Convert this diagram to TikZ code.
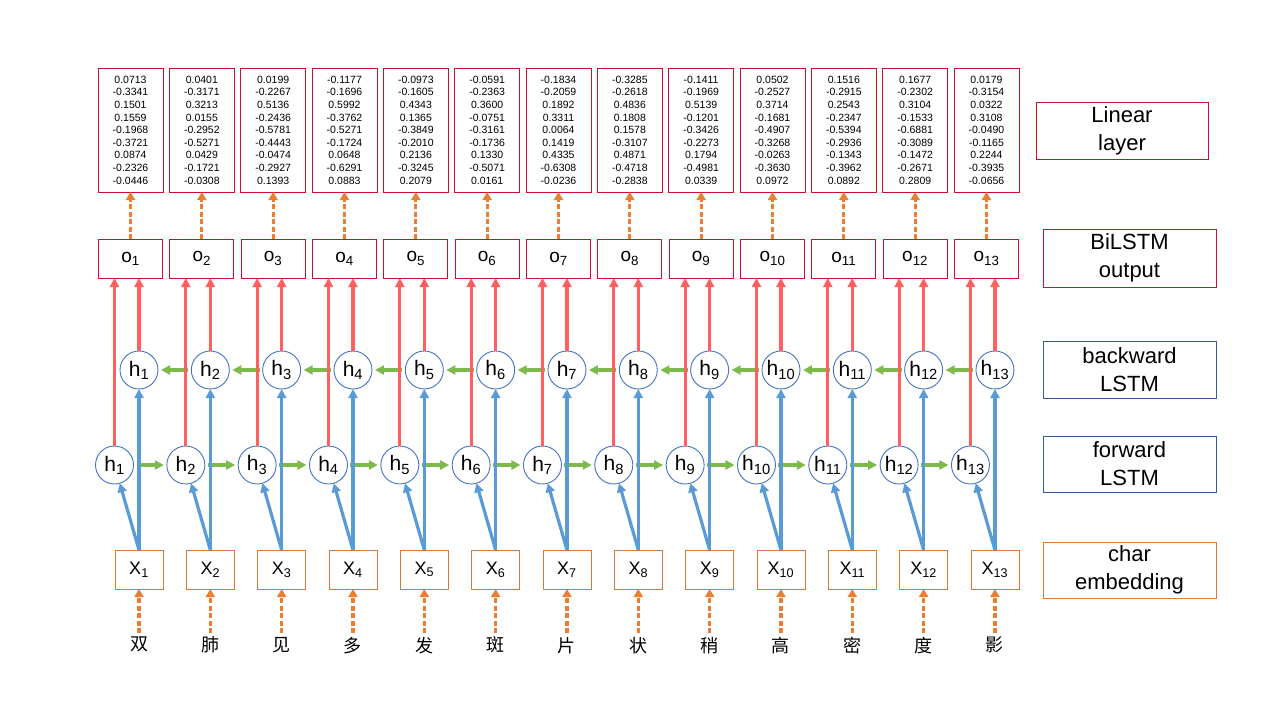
\documentclass[tikz,border=0pt]{standalone}
\usepackage{fontspec}
\setmainfont{Liberation Sans}
\newfontfamily\cjk{Noto Sans CJK SC}
\usetikzlibrary{positioning,arrows.meta}
\definecolor{boxred}{RGB}{200,16,46}
\definecolor{arrred}{RGB}{255,95,95}
\definecolor{arrblue}{RGB}{91,155,213}
\definecolor{arrgreen}{RGB}{125,185,75}
\definecolor{arrorange}{RGB}{237,125,49}
\definecolor{cellblue}{RGB}{68,114,196}
\definecolor{tagblue}{RGB}{46,95,150}
\definecolor{xorange}{RGB}{214,120,60}

\begin{document}
\begin{tikzpicture}[x=1pt,y=-1pt,
every node/.style={inner sep=0pt, outer sep=0pt},
linbox/.style={draw=boxred, line width=0.9pt, minimum width=65pt, minimum height=124pt, align=center, font=\fontsize{10.5}{12.6}\selectfont},
outbox/.style={draw=boxred, line width=0.9pt, minimum width=64pt, minimum height=39pt, font=\fontsize{19}{20}\selectfont},
hcell/.style={circle, draw=cellblue, line width=0.9pt, fill=white, minimum size=38pt, font=\fontsize{21}{22}\selectfont},
xbox/.style={draw=xorange, line width=0.9pt, minimum width=48pt, minimum height=39pt, font=\fontsize{18}{20}\selectfont},
chr/.style={font=\cjk\fontsize{18}{18}\selectfont},
tagbox/.style={line width=0.9pt, minimum width=173pt, minimum height=57pt, align=center, font=\fontsize{22}{28}\selectfont},
redline/.style={arrred, line width=3.2pt, -{Triangle[length=9pt,width=9pt]}},
blueline/.style={arrblue, line width=3.2pt, -{Triangle[length=9pt,width=9pt]}},
greenline/.style={arrgreen, line width=3.2pt, shorten <=3pt, shorten >=3pt, -{Triangle[length=9pt,width=9pt]}},
dashline/.style={arrorange, line width=3.2pt, dash pattern=on 5pt off 2.5pt, -{Triangle[length=8pt,width=9pt]}}]
\useasboundingbox (0,0) rectangle (1280,720);
\foreach \i/\ch/\vals in {
1/双/{0.0713\\-0.3341\\0.1501\\0.1559\\-0.1968\\-0.3721\\0.0874\\-0.2326\\-0.0446},
2/肺/{0.0401\\-0.3171\\0.3213\\0.0155\\-0.2952\\-0.5271\\0.0429\\-0.1721\\-0.0308},
3/见/{0.0199\\-0.2267\\0.5136\\-0.2436\\-0.5781\\-0.4443\\-0.0474\\-0.2927\\0.1393},
4/多/{-0.1177\\-0.1696\\0.5992\\-0.3762\\-0.5271\\-0.1724\\0.0648\\-0.6291\\0.0883},
5/发/{-0.0973\\-0.1605\\0.4343\\0.1365\\-0.3849\\-0.2010\\0.2136\\-0.3245\\0.2079},
6/斑/{-0.0591\\-0.2363\\0.3600\\-0.0751\\-0.3161\\-0.1736\\0.1330\\-0.5071\\0.0161},
7/片/{-0.1834\\-0.2059\\0.1892\\0.3311\\0.0064\\0.1419\\0.4335\\-0.6308\\-0.0236},
8/状/{-0.3285\\-0.2618\\0.4836\\0.1808\\0.1578\\-0.3107\\0.4871\\-0.4718\\-0.2838},
9/稍/{-0.1411\\-0.1969\\0.5139\\-0.1201\\-0.3426\\-0.2273\\0.1794\\-0.4981\\0.0339},
10/高/{0.0502\\-0.2527\\0.3714\\-0.1681\\-0.4907\\-0.3268\\-0.0263\\-0.3630\\0.0972},
11/密/{0.1516\\-0.2915\\0.2543\\-0.2347\\-0.5394\\-0.2936\\-0.1343\\-0.3962\\0.0892},
12/度/{0.1677\\-0.2302\\0.3104\\-0.1533\\-0.6881\\-0.3089\\-0.1472\\-0.2671\\0.2809},
13/影/{0.0179\\-0.3154\\0.0322\\0.3108\\-0.0490\\-0.1165\\0.2244\\-0.3935\\-0.0656}}
{
\pgfmathsetmacro\cx{130.5+71.33*(\i-1)}
\node[linbox] (lin\i) at (\cx,130) {\vals};
\node[outbox] (o\i) at (\cx,258.5) {o\textsubscript{\i}};
\node[hcell] (b\i) at (\cx+8.5,370) {h\textsubscript{\i}};
\node[hcell] (f\i) at (\cx-16,465) {h\textsubscript{\i}};
\node[xbox] (x\i) at (\cx+8.5,569.5) {X\textsubscript{\i}};
\node[chr, below=48pt of x\i] (c\i) {\ch};
}
\foreach \i in {1,...,12}{
\pgfmathtruncatemacro\j{\i+1}
\draw[greenline] (f\i) -- (f\j);
\draw[greenline] (b\j) -- (b\i);
}
\foreach \i in {1,...,13}{
\draw[dashline] (o\i) -- (lin\i);
\draw[redline] (f\i.north) -- (f\i.north |- o\i.south);
\draw[redline] (b\i.north) -- (b\i.north |- o\i.south);
\draw[blueline] (x\i.north) -- (b\i.south);
\draw[blueline] (x\i.north) -- (f\i);
\draw[dashline, shorten <=4pt] (c\i) -- (x\i);
}
\node[tagbox, draw=boxred, minimum width=172pt] (tlin) at (1122,130.5) {Linear\\layer};
\node[tagbox, draw=boxred, minimum height=58pt] (tout) at (1129.5,258) {BiLSTM\\output};
\node[tagbox, draw=tagblue] (tbwd) at (1129.5,369.5) {backward\\LSTM};
\node[tagbox, draw=tagblue, minimum height=56pt] (tfwd) at (1129.5,464) {forward\\LSTM};
\node[tagbox, draw=xorange, minimum height=56pt] (temb) at (1129.5,570) {char\\embedding};
\end{tikzpicture}
\end{document}
